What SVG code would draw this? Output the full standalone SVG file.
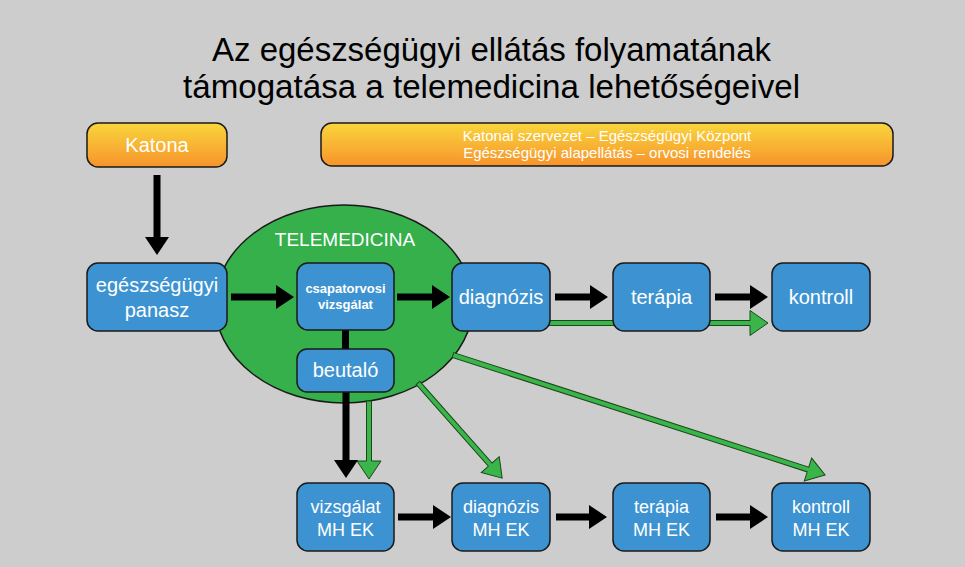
<svg xmlns="http://www.w3.org/2000/svg" width="965" height="567" viewBox="0 0 965 567">
<defs>
<linearGradient id="orange" x1="0" y1="0" x2="0" y2="1">
<stop offset="0" stop-color="#f9d63c"/>
<stop offset="1" stop-color="#f7932c"/>
</linearGradient>
<style>
text{font-family:"Liberation Sans",Arial,sans-serif;fill:#fff;text-anchor:middle}
.title{fill:#000;font-size:33px}
.box{fill:#3d93d1;stroke:#1a1a1a;stroke-width:1.5}
.obox{fill:url(#orange);stroke:#1a1a1a;stroke-width:1.5}
.t20{font-size:20px}
.t18{font-size:18px}
.t13{font-size:13px;font-weight:bold}
.t15{font-size:15px}
.blk{fill:#000}
.grn{fill:#3ab54a;stroke:#1c461c;stroke-width:1}
</style>
</defs>
<rect x="0" y="0" width="965" height="567" fill="#cdcdcd"/>
<g id="title">
<text class="title" x="491.5" y="61" textLength="559" lengthAdjust="spacingAndGlyphs">Az egészségügyi ellátás folyamatának</text>
<text class="title" x="491.5" y="98" textLength="617" lengthAdjust="spacingAndGlyphs">támogatása a telemedicina lehetőségeivel</text>
</g>
<g id="telemedicina">
<ellipse cx="344" cy="304" rx="129" ry="99" fill="#35b04a" stroke="#1a1a1a" stroke-width="1.5"/>
<text x="345" y="246" style="font-size:19px">TELEMEDICINA</text>
</g>
<g id="connectors">
<polygon class="grn" points="0,-2.5 250,-2.5 250,-12.5 268,0 250,12.5 250,2.5 0,2.5" transform="translate(500,323)"/>
<polygon class="grn" points="0,-2.5 60,-2.5 60,-12 78,0 60,12 60,2.5 0,2.5" transform="translate(369,401) rotate(90)"/>
<polygon class="grn" points="0,-2.5 109,-2.5 109,-12 127,0 109,12 109,2.5 0,2.5" transform="translate(418,383) rotate(48.5)"/>
<polygon class="grn" points="0,-2.5 373,-2.5 373,-12 391,0 373,12 373,2.5 0,2.5" transform="translate(453,355) rotate(17.88)"/>
<polygon class="blk" points="153.5,175 160.5,175 160.5,237 169,237 157,255 145,237 153.5,237"/>
<polygon class="blk" points="231,293.5 276,293.5 276,285 294,297 276,309 276,300.5 231,300.5"/>
<polygon class="blk" points="397,293.5 432,293.5 432,285 450,297 432,309 432,300.5 397,300.5"/>
<polygon class="blk" points="555,293.5 590,293.5 590,285 608,297 590,309 590,300.5 555,300.5"/>
<polygon class="blk" points="715,293.5 750,293.5 750,285 768,297 750,309 750,300.5 715,300.5"/>
<rect class="blk" x="342" y="330" width="7" height="20"/>
<polygon class="blk" points="342.5,392 349.5,392 349.5,460 358,460 346,478 334,460 342.5,460"/>
<polygon class="blk" points="398,513.5 433,513.5 433,505 451,517 433,529 433,520.5 398,520.5"/>
<polygon class="blk" points="556,513.5 589,513.5 589,505 607,517 589,529 589,520.5 556,520.5"/>
<polygon class="blk" points="716,513.5 750,513.5 750,505 768,517 750,529 750,520.5 716,520.5"/>
</g>
<g id="katona">
<rect class="obox" x="87" y="123" width="140" height="44" rx="11"/>
<text class="t20" x="157" y="152">Katona</text>
</g>
<g id="szervezet">
<rect class="obox" x="321" y="123" width="572" height="43" rx="11"/>
<text class="t15" x="607" y="141">Katonai szervezet – Egészségügyi Központ</text>
<text class="t15" x="607" y="158">Egészségügyi alapellátás – orvosi rendelés</text>
</g>
<g id="panasz">
<rect class="box" x="87" y="263" width="140" height="68" rx="11"/>
<text class="t20" x="157" y="292">egészségügyi</text>
<text class="t20" x="157" y="317">panasz</text>
</g>
<g id="csapatorvosi">
<rect class="box" x="297" y="263" width="97" height="67" rx="11"/>
<text class="t13" x="345.5" y="293">csapatorvosi</text>
<text class="t13" x="345.5" y="309">vizsgálat</text>
</g>
<g id="beutalo">
<rect class="box" x="297" y="349" width="97" height="43" rx="10"/>
<text class="t20" x="345.5" y="377">beutaló</text>
</g>
<g id="diagnozis">
<rect class="box" x="452" y="263" width="98" height="68" rx="11"/>
<text class="t20" x="501" y="304">diagnózis</text>
</g>
<g id="terapia">
<rect class="box" x="613" y="263" width="97" height="68" rx="11"/>
<text class="t20" x="661.5" y="304">terápia</text>
</g>
<g id="kontroll">
<rect class="box" x="772" y="263" width="98" height="68" rx="11"/>
<text class="t20" x="821" y="304">kontroll</text>
</g>
<g id="vizsgalat-mhek">
<rect class="box" x="297" y="483" width="97" height="68" rx="11"/>
<text class="t18" x="345.5" y="513">vizsgálat</text>
<text class="t18" x="345.5" y="536">MH EK</text>
</g>
<g id="diagnozis-mhek">
<rect class="box" x="452" y="483" width="98" height="68" rx="11"/>
<text class="t18" x="501" y="513">diagnózis</text>
<text class="t18" x="501" y="536">MH EK</text>
</g>
<g id="terapia-mhek">
<rect class="box" x="613" y="483" width="97" height="68" rx="11"/>
<text class="t18" x="661.5" y="513">terápia</text>
<text class="t18" x="661.5" y="536">MH EK</text>
</g>
<g id="kontroll-mhek">
<rect class="box" x="772" y="483" width="98" height="68" rx="11"/>
<text class="t18" x="821" y="513">kontroll</text>
<text class="t18" x="821" y="536">MH EK</text>
</g>
</svg>
